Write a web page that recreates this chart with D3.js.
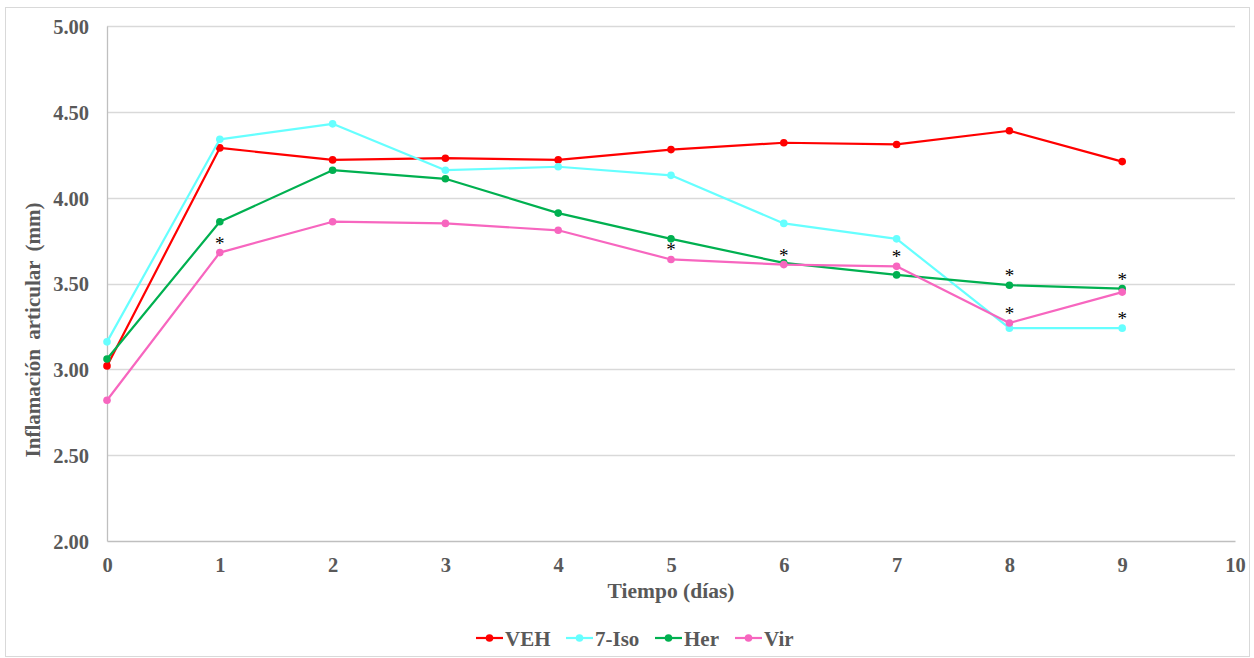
<!DOCTYPE html>
<html>
<head>
<meta charset="utf-8">
<script src="https://cdn.jsdelivr.net/npm/d3@7"></script>
<style>
  html, body { margin: 0; padding: 0; background: #fff; }
  svg { display: block; font-family: "Liberation Serif", "Times New Roman", serif; }
</style>
</head>
<body>
<div id="chart"></div>
<script>
// ── Data ────────────────────────────────────────────
const days    = [0, 1, 2, 3, 4, 5, 6, 7, 8, 9];
const veh     = [3.02, 4.29, 4.22, 4.23, 4.22, 4.28, 4.32, 4.31, 4.39, 4.21];
const iso     = [3.16, 4.34, 4.43, 4.16, 4.18, 4.13, 3.85, 3.76, 3.24, 3.24];
const her     = [3.06, 3.86, 4.16, 4.11, 3.91, 3.76, 3.62, 3.55, 3.49, 3.47];
const vir     = [2.82, 3.68, 3.86, 3.85, 3.81, 3.64, 3.61, 3.60, 3.27, 3.45];
const seriesNames  = ['VEH', '7-Iso', 'Her', 'Vir'];
const seriesColors = ['#FF0000', '#66FFFF', '#00B050', '#F766BF'];
const xTicks  = [0, 1, 2, 3, 4, 5, 6, 7, 8, 9, 10];
const yTicks  = [2.0, 2.5, 3.0, 3.5, 4.0, 4.5, 5.0];
// significance marks: [series index, day]
const stars   = [[3, 1], [3, 5], [3, 6], [3, 7], [2, 8], [3, 8], [2, 9], [1, 9]];

const allSeries = [veh, iso, her, vir];

// ── Layout ──────────────────────────────────────────
const W = 1254, H = 658;
const margin = { left: 107, right: 19, top: 26, bottom: 117 };
const innerW = W - margin.left - margin.right;
const innerH = H - margin.top - margin.bottom;

const svg = d3.select('#chart').append('svg')
  .attr('width', W).attr('height', H);

svg.append('rect')
  .attr('x', 5.5).attr('y', 7.5)
  .attr('width', W - 10).attr('height', H - 9)
  .attr('fill', '#fff').attr('stroke', '#d9d9d9');

const x = d3.scaleLinear().domain([0, 10]).range([margin.left, margin.left + innerW]);
const y = d3.scaleLinear().domain([2, 5]).range([margin.top + innerH, margin.top]);

// gridlines
svg.append('g')
  .selectAll('line')
  .data(yTicks.filter(t => t > 2))
  .join('line')
  .attr('x1', x(0)).attr('x2', x(10))
  .attr('y1', d => Math.round(y(d)) + 0.5).attr('y2', d => Math.round(y(d)) + 0.5)
  .attr('stroke', '#d9d9d9').attr('stroke-width', 1.3);

// axes
const yAxis = svg.append('g')
  .attr('transform', `translate(${x(0)},0)`)
  .call(d3.axisLeft(y).tickValues(yTicks).tickFormat(d3.format('.2f')).tickSize(0).tickPadding(18));

const xAxis = svg.append('g')
  .attr('transform', `translate(0,${y(2)})`)
  .call(d3.axisBottom(x).tickValues(xTicks).tickFormat(d3.format('d')).tickSize(0).tickPadding(16));

[xAxis, yAxis].forEach(g => {
  g.select('.domain').attr('stroke', '#bfbfbf').attr('stroke-width', 1.3);
  g.selectAll('text')
    .attr('fill', '#595959')
    .style('font-size', '20.5px')
    .style('font-weight', 'bold')
    .style('font-family', '"Liberation Serif", "Times New Roman", serif');
});
yAxis.selectAll('text').attr('dy', '0.36em');

// axis titles
svg.append('text')
  .attr('x', x(5)).attr('y', 598)
  .attr('text-anchor', 'middle')
  .attr('fill', '#595959')
  .style('font-size', '21.5px').style('font-weight', 'bold')
  .text('Tiempo (días)');

svg.append('text')
  .attr('transform', `translate(40,330) rotate(-90)`)
  .attr('text-anchor', 'middle')
  .attr('fill', '#595959')
  .style('font-size', '21px').style('font-weight', 'bold')
  .style('word-spacing', '4px')
  .text('Inflamación articular (mm)');

// lines + markers
const line = d3.line().x((d, i) => x(days[i])).y(d => y(d));

allSeries.forEach((vals, si) => {
  const g = svg.append('g');
  g.append('path')
    .datum(vals)
    .attr('d', line)
    .attr('fill', 'none')
    .attr('stroke', seriesColors[si])
    .attr('stroke-width', 2.2)
    .attr('stroke-linejoin', 'round');
  g.selectAll('circle')
    .data(vals)
    .join('circle')
    .attr('cx', (d, i) => x(days[i]))
    .attr('cy', d => y(d))
    .attr('r', 3.8)
    .attr('fill', seriesColors[si]);
});

// asterisks
svg.append('g')
  .selectAll('text')
  .data(stars)
  .join('text')
  .attr('x', d => x(d[1]))
  .attr('y', d => y(allSeries[d[0]][d[1]]) - 3)
  .attr('text-anchor', 'middle')
  .attr('fill', '#000')
  .style('font-size', '19px')
  .style('font-family', '"Liberation Serif", serif')
  .text('*');

// legend
const legendX = [476, 566, 655, 735];
const legend = svg.append('g').attr('transform', 'translate(0,638)');
seriesNames.forEach((name, i) => {
  const lg = legend.append('g').attr('transform', `translate(${legendX[i]},0)`);
  lg.append('line')
    .attr('x1', 0).attr('x2', 27).attr('y1', 0).attr('y2', 0)
    .attr('stroke', seriesColors[i]).attr('stroke-width', 2.2);
  lg.append('circle').attr('cx', 13.5).attr('cy', 0).attr('r', 3.8).attr('fill', seriesColors[i]);
  lg.append('text')
    .attr('x', 29).attr('y', 8)
    .attr('fill', '#595959')
    .style('font-size', '21px').style('font-weight', 'bold')
    .text(name);
});
</script>
</body>
</html>
